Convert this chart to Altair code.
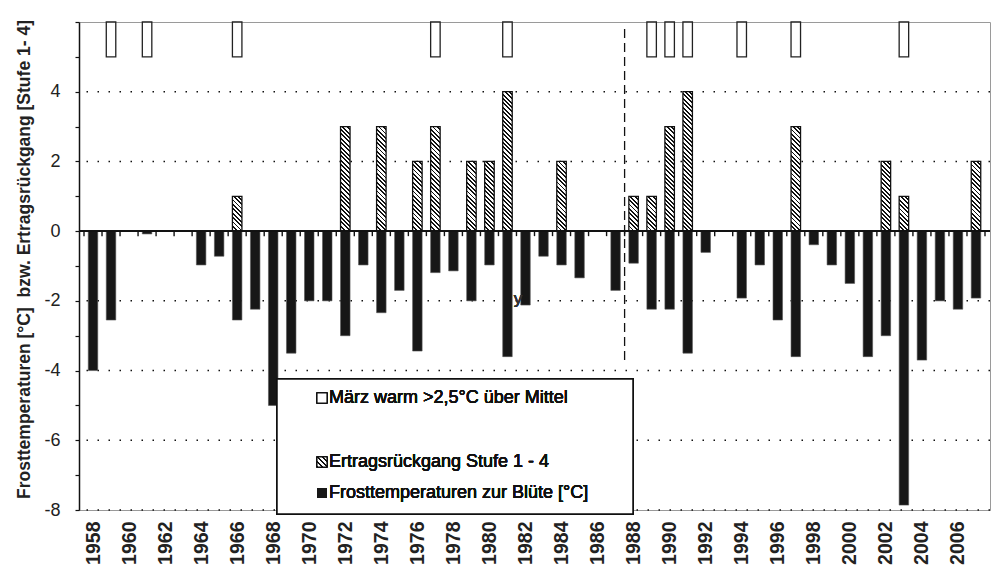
import altair as alt
import pandas as pd

# ---- data -------------------------------------------------------------
years = list(range(1958, 2008))

# lowest frost temperature during blossom [°C] (None = no frost)
frost = [-4.0, -2.55, None, -0.08, None, None, -0.97, -0.72, -2.55, -2.24,
         -5.0, -3.5, -2.0, -2.0, -3.0, -0.97, -2.34, -1.7, -3.44, -1.19,
         -1.14, -2.0, -0.97, -3.6, -2.12, -0.72, -0.97, -1.34, None, -1.7,
         -0.92, -2.24, -2.24, -3.5, -0.61, None, -1.92, -0.97, -2.55, -3.6,
         -0.39, -0.97, -1.5, -3.6, -3.0, -7.86, -3.7, -2.0, -2.24, -1.92]

# yield decline, level 1 - 4
ertrag_years = [1966, 1972, 1974, 1976, 1977, 1979, 1980, 1981, 1984,
                1988, 1989, 1990, 1991, 1997, 2002, 2003, 2007]
ertrag_levels = [1, 3, 3, 2, 3, 2, 2, 4, 2, 1, 1, 3, 4, 3, 2, 1, 2]

# years with a March more than 2.5 °C above average
warm_years = [1959, 1961, 1966, 1977, 1981, 1989, 1990, 1991, 1994, 1997, 2003]

grid_values = [4, 2, -2, -4, -6, -8]
label_years = list(range(1958, 2007, 2))
split_year = 1987.5

legend_labels = ["März warm >2,5°C über Mittel",
                 "Ertragsrückgang Stufe 1 - 4",
                 "Frosttemperaturen zur Blüte [°C]"]

# ---- layout -----------------------------------------------------------
W, H = 911, 488
Y_MIN, Y_MAX = -8, 6
PX_PER_UNIT = H / (Y_MAX - Y_MIN)
BAR_W = 9.5
FONT = "Liberation Sans"

frost_df = pd.DataFrame([{"year": y, "frost": v} for y, v in zip(years, frost) if v is not None])
ertrag_df = pd.DataFrame({"year": ertrag_years, "level": ertrag_levels})
warm_df = pd.DataFrame({"year": warm_years, "lo": 5, "hi": 6})
grid_df = pd.DataFrame({"v": grid_values})
bound_df = pd.DataFrame({"b": [years[0] - 0.5] + [y + 0.5 for y in years]})

xscale = alt.Scale(domain=[years[0] - 0.5, years[-1] + 0.5], nice=False, zero=False)
yscale = alt.Scale(domain=[Y_MIN, Y_MAX], nice=False, zero=False)


def hatch(w, h, period=4.4, ink=0.42):
    """Diagonal '\\' stripes as a hard-stop linear gradient in bbox units."""
    span = w + h
    s = span / (w * w + h * h)
    stops = []
    c = 0.0
    while c < span:
        a = c / span
        b = min((c + ink * period) / span, 1.0)
        e = min((c + period) / span, 1.0)
        stops += [alt.GradientStop(color="#111111", offset=a),
                  alt.GradientStop(color="#111111", offset=b),
                  alt.GradientStop(color="#ffffff", offset=b),
                  alt.GradientStop(color="#ffffff", offset=e)]
        c += period
    return alt.LinearGradient(gradient="linear", stops=stops,
                              x1=0, y1=1, x2=w * s, y2=1 - h * s)


x_axis = alt.Axis(
    values=label_years,
    labelExpr="'' + datum.value",
    labelAngle=-90, labelOverlap=False, labelFlush=False,
    labelFont=FONT, labelFontSize=19.5, labelFontWeight="bold", labelColor="#222",
    labelPadding=11, ticks=False, tickSize=0,
    domainColor="#9a9a9a", domainWidth=1, grid=False, title=None,
)

y_axis = alt.Axis(
    values=list(range(Y_MIN, Y_MAX + 1)),
    labelExpr="datum.value % 2 == 0 && datum.value < 6 ? '' + datum.value : ''",
    labelFont=FONT, labelFontSize=18, labelColor="#222", labelPadding=15,
    labelOverlap=False,
    tickSize=4, tickColor="#111", tickWidth=1.2,
    domainColor="#111", domainWidth=1.5, grid=False,
    title="Frosttemperaturen [°C]\u00a0 bzw. Ertragsrückgang [Stufe 1- 4]",
    titleFont=FONT, titleFontSize=17.5, titleFontWeight="bold", titleColor="#222",
    titleAngle=-90, titleAlign="center", titleBaseline="middle",
    titleX=-54.5, titleY=237,
)


def X(field):
    return alt.X(field, type="quantitative", scale=xscale, axis=x_axis)


def Y(field=None, datum=None):
    if datum is not None:
        return alt.Y(datum=datum, type="quantitative", scale=yscale, axis=y_axis)
    return alt.Y(field, type="quantitative", scale=yscale, axis=y_axis)


# dotted horizontal grid
grid = alt.Chart(grid_df).mark_rule(
    color="#111", strokeWidth=1.5, strokeDash=[1.5, 9.5]
).encode(y=Y("v"))

# frost temperatures (black bars)
frost_bars = alt.Chart(frost_df).mark_bar(
    size=BAR_W, fill="#171717", stroke="#555", strokeWidth=0.6
).encode(x=X("year"), y=Y("frost"), y2=alt.datum(0))

# yield decline (hatched bars), one layer per level so each gets its own stripe geometry
hatched = []
for lv in sorted(set(ertrag_levels)):
    hatched.append(
        alt.Chart(ertrag_df).transform_filter(alt.datum.level == lv).mark_bar(
            size=BAR_W, fill=hatch(BAR_W, lv * PX_PER_UNIT),
            stroke="#111", strokeWidth=1.3
        ).encode(x=X("year"), y=Y("level"), y2=alt.datum(0))
    )

# warm March markers (open bars between 5 and 6)
warm_bars = alt.Chart(warm_df).mark_bar(
    size=BAR_W, fill="white", stroke="#222", strokeWidth=1.3
).encode(x=X("year"), y=Y("lo"), y2="hi:Q")

# zero line with year separators
zero_line = alt.Chart(grid_df).mark_rule(color="#111", strokeWidth=1.5).encode(
    y=Y(datum=0)
)
zero_ticks = alt.Chart(bound_df).mark_rule(color="#111", strokeWidth=1.4).encode(
    x=X("b"), y=Y(datum=0), y2=alt.datum(-5 / PX_PER_UNIT)
)

# dashed separator between 1987 and 1988
split = alt.Chart(pd.DataFrame({"x": [split_year]})).mark_rule(
    color="#111", strokeWidth=1.3, strokeDash=[9, 5]
).encode(x=X("x"), y=Y(datum=5.8), y2=alt.datum(-3.82))

# legend box
leg_box = alt.Chart(grid_df).mark_rect(
    fill="white", stroke="#111", strokeWidth=1.5
).encode(
    x=alt.value(198), x2=alt.value(554), y=alt.value(357), y2=alt.value(492)
)
leg_rows = [376, 440, 471]
leg_sym = [
    alt.Chart(grid_df).mark_rect(fill="white", stroke="#111", strokeWidth=1.2).encode(
        x=alt.value(238), x2=alt.value(248),
        y=alt.value(leg_rows[0] - 5), y2=alt.value(leg_rows[0] + 5)),
    alt.Chart(grid_df).mark_rect(fill=hatch(10, 10, period=5.0, ink=0.3),
                                 stroke="#111", strokeWidth=1.2).encode(
        x=alt.value(238), x2=alt.value(248),
        y=alt.value(leg_rows[1] - 5), y2=alt.value(leg_rows[1] + 5)),
    alt.Chart(grid_df).mark_rect(fill="#171717").encode(
        x=alt.value(238), x2=alt.value(248),
        y=alt.value(leg_rows[2] - 5), y2=alt.value(leg_rows[2] + 5)),
]
leg_text = [
    alt.Chart(grid_df).mark_text(
        align="left", baseline="middle", font=FONT, fontSize=18, color="#111",
        text=lbl,
    ).encode(x=alt.value(250), y=alt.value(row))
    for lbl, row in zip(legend_labels, leg_rows)
]

stray = alt.Chart(grid_df).mark_text(
    text="y", font=FONT, fontSize=17, color="#333", align="center", baseline="middle"
).encode(x=alt.value(439), y=alt.value(277))

chart = alt.layer(
    grid, frost_bars, *hatched, warm_bars, zero_line, zero_ticks, split,
    leg_box, *leg_sym, *leg_text, stray,
).properties(
    width=W, height=H,
    autosize=alt.AutoSizeParams(type="none"),
    padding={"left": 79, "top": 22, "right": 1, "bottom": 57},
    background="white",
).configure_view(stroke="#9a9a9a", strokeWidth=1)

chart.save("out.html", embed_options={"renderer": "svg", "actions": False})
